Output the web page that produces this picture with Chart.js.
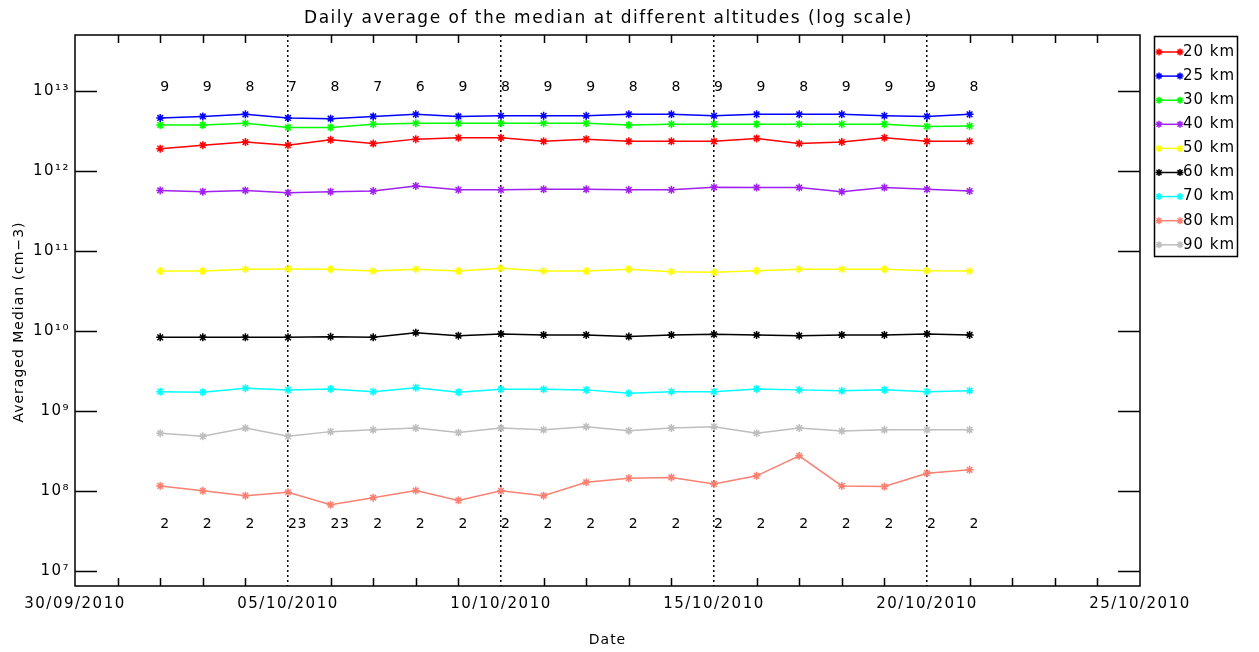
<!DOCTYPE html>
<html><head><meta charset="utf-8">
<script src="https://cdn.jsdelivr.net/npm/chart.js@4.4.1/dist/chart.umd.min.js"></script>
<style>html,body{margin:0;padding:0;background:#fff;overflow:hidden}#wrap{width:1259px;height:652px}</style>
</head><body><div id="wrap"><canvas id="c" width="1259" height="652"></canvas></div>
<script>
const categories = ["02/10/2010","03/10/2010","04/10/2010","05/10/2010","06/10/2010","07/10/2010","08/10/2010","09/10/2010","10/10/2010","11/10/2010","12/10/2010","13/10/2010","14/10/2010","15/10/2010","16/10/2010","17/10/2010","18/10/2010","19/10/2010","20/10/2010","21/10/2010"];
const xTickLabels = ["30/09/2010","05/10/2010","10/10/2010","15/10/2010","20/10/2010","25/10/2010"];
const yTickValues = [1e7,1e8,1e9,1e10,1e11,1e12,1e13];
const yTickLabels = ["10\u2077","10\u2078","10\u2079","10\u00b9\u2070","10\u00b9\u00b9","10\u00b9\u00b2","10\u00b9\u00b3"];
const seriesLabels = ["20 km","25 km","30 km","40 km","50 km","60 km","70 km","80 km","90 km"];
const km20 = [1.9e12,2.1e12,2.3e12,2.1e12,2.45e12,2.2e12,2.5e12,2.6e12,2.6e12,2.35e12,2.5e12,2.35e12,2.35e12,2.35e12,2.55e12,2.2e12,2.3e12,2.6e12,2.35e12,2.35e12];
const km25 = [4.6e12,4.8e12,5.1e12,4.6e12,4.5e12,4.8e12,5.1e12,4.8e12,4.9e12,4.9e12,4.9e12,5.1e12,5.1e12,4.9e12,5.1e12,5.1e12,5.1e12,4.9e12,4.8e12,5.1e12];
const km30 = [3.75e12,3.75e12,3.95e12,3.5e12,3.5e12,3.85e12,3.95e12,3.95e12,3.95e12,3.95e12,3.95e12,3.75e12,3.85e12,3.85e12,3.85e12,3.85e12,3.85e12,3.85e12,3.6e12,3.65e12];
const km40 = [5.7e11,5.5e11,5.7e11,5.35e11,5.5e11,5.6e11,6.5e11,5.8e11,5.8e11,5.9e11,5.9e11,5.8e11,5.8e11,6.25e11,6.2e11,6.2e11,5.5e11,6.2e11,5.9e11,5.6e11];
const km50 = [5.6e10,5.6e10,5.9e10,5.95e10,5.9e10,5.6e10,5.9e10,5.6e10,6.05e10,5.6e10,5.6e10,5.9e10,5.5e10,5.4e10,5.65e10,5.9e10,5.9e10,5.9e10,5.65e10,5.6e10];
const km60 = [8.3e9,8.3e9,8.3e9,8.3e9,8.45e9,8.3e9,9.5e9,8.7e9,9.15e9,8.9e9,8.9e9,8.5e9,8.9e9,9.05e9,8.9e9,8.7e9,8.9e9,8.9e9,9.15e9,8.9e9];
const km70 = [1.74e9,1.71e9,1.92e9,1.83e9,1.88e9,1.74e9,1.95e9,1.71e9,1.86e9,1.86e9,1.83e9,1.66e9,1.74e9,1.74e9,1.88e9,1.83e9,1.78e9,1.83e9,1.74e9,1.79e9];
const km80 = [1.15e8,1.0e8,8.7e7,9.6e7,6.7e7,8.2e7,1.01e8,7.6e7,1.0e8,8.7e7,1.28e8,1.44e8,1.47e8,1.22e8,1.54e8,2.74e8,1.15e8,1.13e8,1.66e8,1.83e8];
const km90 = [5.25e8,4.8e8,6.1e8,4.8e8,5.5e8,5.8e8,6.1e8,5.35e8,6.1e8,5.8e8,6.35e8,5.65e8,6.1e8,6.35e8,5.25e8,6.1e8,5.6e8,5.8e8,5.8e8,5.8e8];
const topCounts = [9,9,8,7,8,7,6,9,8,9,9,8,8,9,9,8,9,9,9,8];
const bottomCounts = [2,2,2,23,23,2,2,2,2,2,2,2,2,2,2,2,2,2,2,2];
const seriesValues = [km20,km25,km30,km40,km50,km60,km70,km80,km90];
const seriesColors = ["#ff0000","#0000ff","#00ff00","#a020f0","#ffff00","#000000","#00ffff","#fa8072","#bebebe"];

function dayOf(s){const p=s.split('/').map(Number);return (Date.UTC(p[2],p[1]-1,p[0])-Date.UTC(2010,8,30))/86400000;}
const xTickValues = xTickLabels.map(dayOf);
const FONT = "'DejaVu Sans', sans-serif";

const datasets = seriesValues.map((vals,k)=>({
  label: seriesLabels[k],
  data: vals.map((v,i)=>({x:dayOf(categories[i]), y:v})),
  borderColor: seriesColors[k], backgroundColor: seriesColors[k],
  borderWidth: 1.5, pointStyle:'star', pointRadius:4, pointBorderWidth:1.5,
  pointBorderColor: seriesColors[k], tension:0, fill:false
}));

const decor = {
  id:'decor',
  beforeDraw(chart){ chart.ctx.letterSpacing = '1.5px'; },
  afterDraw(chart){
    const ctx = chart.ctx, a = chart.chartArea, xs = chart.scales.x, ys = chart.scales.y;
    ctx.save();
    ctx.letterSpacing = '0px';
    ctx.strokeStyle = '#000'; ctx.lineWidth = 1.5; ctx.setLineDash([]);
    ctx.strokeRect(a.left, a.top, a.right-a.left, a.bottom-a.top);
    ctx.beginPath();
    yTickValues.forEach(v=>{const y=Math.round(ys.getPixelForValue(v))+0.5;
      ctx.moveTo(a.left,y);ctx.lineTo(a.left+22,y);ctx.moveTo(a.right-22,y);ctx.lineTo(a.right,y);});
    const d0 = xTickValues[0], d1 = xTickValues[xTickValues.length-1];
    for(let d=d0+1; d<d1; d++){ if(xTickValues.includes(d)) continue;
      const x=Math.round(xs.getPixelForValue(d))+0.5;
      ctx.moveTo(x,a.bottom);ctx.lineTo(x,a.bottom-8);ctx.moveTo(x,a.top);ctx.lineTo(x,a.top+8);}
    ctx.stroke();
    // counts
    ctx.fillStyle='#000'; ctx.font = "14px "+FONT; ctx.textAlign='left'; ctx.textBaseline='middle';
    ctx.letterSpacing = '0.5px';
    const topY = ys.getPixelForValue(1.12e13), botY = ys.getPixelForValue(3.8e7);
    categories.forEach((c,i)=>{const x=xs.getPixelForValue(dayOf(c));
      ctx.fillText(String(topCounts[i]), x, topY); ctx.fillText(String(bottomCounts[i]), x, botY);});
    // titles
    ctx.textAlign='center';
    ctx.font = "17px "+FONT; ctx.letterSpacing = '1.5px';
    ctx.fillText("Daily average of the median at different altitudes (log scale)", (a.left+a.right)/2 + 1, 19);
    ctx.font = "14px "+FONT; ctx.letterSpacing = '1px';
    ctx.fillText("Date", (a.left+a.right)/2, 640);
    ctx.save(); ctx.translate(19, 322); ctx.rotate(-Math.PI/2);
    ctx.fillText("Averaged Median (cm\u22123)", 0, 0); ctx.restore();
    // legend
    ctx.lineWidth = 1.5; ctx.strokeStyle='#000';
    ctx.strokeRect(1154.5, 36.5, 83, 220);
    ctx.font = "15px "+FONT; ctx.textAlign='left'; ctx.letterSpacing = '1px';
    seriesLabels.forEach((lab,k)=>{
      const y = 52 + k*24.1;
      ctx.strokeStyle = seriesColors[k]; ctx.lineWidth=1.5;
      ctx.beginPath(); ctx.moveTo(1159,y); ctx.lineTo(1180,y); ctx.stroke();
      const opt = {pointStyle:'star', radius:3.5, borderWidth:1.5};
      ctx.fillStyle = seriesColors[k];
      Chart.helpers.drawPoint(ctx, opt, 1159, y);
      Chart.helpers.drawPoint(ctx, opt, 1180, y);
      ctx.fillStyle='#000';
      ctx.fillText(lab, 1183, y);
    });
    ctx.restore();
  }
};

new Chart(document.getElementById('c'), {
  type:'line',
  data:{datasets},
  options:{
    responsive:false, animation:false, devicePixelRatio:1,
    layout:{padding:{left:0,right:119,top:35,bottom:0}},
    plugins:{legend:{display:false}, title:{display:false}, tooltip:{enabled:false}},
    scales:{
      x:{type:'linear', min:xTickValues[0], max:xTickValues[xTickValues.length-1],
        afterFit(s){s.height=66;},
        afterBuildTicks(s){s.ticks = xTickValues.map(v=>({value:v}));},
        ticks:{callback:(v,i)=>xTickLabels[i], font:{family:FONT,size:15}, color:'#000', padding:9, maxRotation:0, autoSkip:false},
        grid:{drawTicks:false, lineWidth:1.5,
          color:(c)=>{const v=c.tick&&c.tick.value; return (v>xTickValues[0]&&v<xTickValues[xTickValues.length-1])?'#000':'rgba(0,0,0,0)';}},
        border:{display:false, dash:[2,3]}
      },
      y:{type:'logarithmic', min:Math.pow(10,6.81), max:Math.pow(10,13.7),
        afterFit(s){s.width=75;},
        afterBuildTicks(s){s.ticks = yTickValues.map(v=>({value:v}));},
        ticks:{callback:(v,i)=>yTickLabels[i], font:{family:FONT,size:15}, color:'#000', padding:5, autoSkip:false},
        grid:{display:false, drawTicks:false}, border:{display:false}
      }
    }
  },
  plugins:[decor]
});
</script></body></html>
